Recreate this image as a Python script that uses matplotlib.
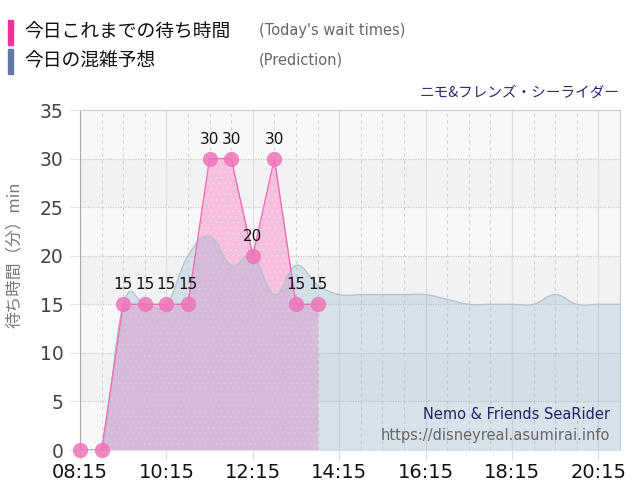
import matplotlib
matplotlib.use("Agg")
import matplotlib.pyplot as plt
from matplotlib.path import Path
from matplotlib.patches import PathPatch, Rectangle

JP = ['Noto Sans CJK JP', 'DejaVu Sans']

# times every 30 min, in minutes after midnight
today_times = [495, 525, 555, 585, 615, 645, 675, 705, 735, 765, 795, 825]
today_waits = [0, 0, 15, 15, 15, 15, 30, 30, 20, 30, 15, 15]

pred_times = [495, 525, 555, 585, 615, 645, 675, 705, 735, 765, 795, 825, 855,
              885, 915, 945, 975, 1005, 1035, 1065, 1095, 1125, 1155, 1185, 1215, 1245]
pred_waits = [0, 0, 15, 15, 15, 20, 22, 19, 20, 16, 19, 17, 16,
              16, 16, 16, 16, 15.5, 15, 15, 15, 15, 16, 15, 15, 15]

tick_times = [495, 615, 735, 855, 975, 1095, 1215]
tick_labels = ['08:15', '10:15', '12:15', '14:15', '16:15', '18:15', '20:15']


def smooth_path(xs, ys, tension=0.4, close=False):
    # cubic bezier through the points (like a chart.js tension curve)
    pts = list(zip(xs, ys))
    verts = [pts[0]]
    codes = [Path.MOVETO]
    n = len(pts)
    for i in range(n - 1):
        p0 = pts[i - 1] if i > 0 else pts[i]
        p1 = pts[i]
        p2 = pts[i + 1]
        p3 = pts[i + 2] if i + 2 < n else pts[i + 1]
        c1 = (p1[0] + (p2[0] - p0[0]) * tension / 2, p1[1] + (p2[1] - p0[1]) * tension / 2)
        c2 = (p2[0] - (p3[0] - p1[0]) * tension / 2, p2[1] - (p3[1] - p1[1]) * tension / 2)
        verts += [c1, c2, p2]
        codes += [Path.CURVE4] * 3
    if close:
        verts += [(xs[-1], 0), (xs[0], 0), (xs[0], 0)]
        codes += [Path.LINETO, Path.LINETO, Path.CLOSEPOLY]
    return Path(verts, codes)


fig = plt.figure(figsize=(6.4, 5), dpi=100)
ax = fig.add_axes([80 / 640, 50 / 500, 540 / 640, 340 / 500])

ax.set_xlim(495, 1245)
ax.set_ylim(0, 35)

# striped background
for k in range(7):
    ax.axhspan(k * 5, k * 5 + 5, color='#f8f8f8' if k % 2 == 0 else '#f2f2f2', zorder=0, lw=0)

# grid
for t in range(525, 1245, 30):
    if t not in tick_times:
        ax.axvline(t, color='#d4d4d4', lw=0.8, ls=(0, (3, 3)), zorder=1)
for t in tick_times:
    ax.axvline(t, color='#dedede', lw=0.9, zorder=1)
for v in range(5, 35, 5):
    ax.axhline(v, color='#cccccc', lw=0.9, ls=(0, (1, 1)), zorder=1)

# today's wait times (fill under the prediction layer)
ax.fill_between(today_times, today_waits, 0, color='#f5bfdd', lw=0, zorder=2)
plt.rcParams['hatch.linewidth'] = 0.4
ax.fill_between(today_times, today_waits, 0, facecolor='none', edgecolor=(1, 1, 1, 0.3),
                hatch='...', lw=0, zorder=2)

# prediction
ax.add_patch(PathPatch(smooth_path(pred_times, pred_waits, close=True),
                       facecolor='#90b1cf', alpha=0.3, edgecolor='none', zorder=3))
ax.add_patch(PathPatch(smooth_path(pred_times, pred_waits),
                       facecolor='none', edgecolor='#b3c1cf', lw=0.9, zorder=4))

ax.plot(today_times, today_waits, color='#f06eb6', lw=1.0, zorder=5)
ax.plot(today_times, today_waits, 'o', ms=11, color='#ee74b8', alpha=0.85,
        mec='none', zorder=6, clip_on=False)
for t, w in zip(today_times, today_waits):
    if w > 0:
        ax.annotate(str(w), (t, w), xytext=(0, 8.5), textcoords='offset points',
                    ha='center', va='bottom', fontsize=11, color='#111111',
                    family='DejaVu Sans', zorder=7)

# axes styling
ax.set_xticks(tick_times)
ax.set_xticklabels(tick_labels, family='DejaVu Sans', fontsize=14, color='#111111')
ax.set_yticks(range(0, 36, 5))
ax.set_yticklabels([str(v) for v in range(0, 36, 5)], family='DejaVu Sans',
                   fontsize=13.5, color='#444444')
ax.tick_params(axis='x', length=7, color='#dddddd', pad=2)
ax.tick_params(axis='y', length=8, color='#e4e4e4', pad=4)
ax.spines['left'].set_color('#aaaaaa')
ax.spines['bottom'].set_color('#e0e0e0')
for s in ['top', 'right']:
    ax.spines[s].set_color('#cccccc')
    ax.spines[s].set_linestyle((0, (1, 1)))
ax.set_ylabel('待ち時間（分）min', family=JP, fontsize=12, color='#777777')
ax.yaxis.set_label_coords(-0.105, 0.574)

# watermark
ax.text(0.982, 0.105, 'Nemo & Friends SeaRider', transform=ax.transAxes, ha='right',
        va='center', fontsize=10.5, color='#222266', family='DejaVu Sans', zorder=8)
ax.text(0.982, 0.043, 'https://disneyreal.asumirai.info', transform=ax.transAxes,
        ha='right', va='center', fontsize=10.5, color='#666666', family='DejaVu Sans', zorder=8)

# header legend
fig.patches.append(Rectangle((8 / 640, 1 - 45 / 500), 5 / 640, 25 / 500,
                             transform=fig.transFigure, color='#f0319a'))
fig.patches.append(Rectangle((8 / 640, 1 - 74 / 500), 5 / 640, 25 / 500,
                             transform=fig.transFigure, color='#6277a6'))
fig.text(24 / 640, 1 - 32 / 500, '今日これまでの待ち時間', family=JP, fontsize=13.5,
         va='center', color='#111111')
fig.text(24 / 640, 1 - 61 / 500, '今日の混雑予想', family=JP, fontsize=13.5,
         va='center', color='#111111')
fig.text(259 / 640, 1 - 31 / 500, "(Today's wait times)", family='DejaVu Sans',
         fontsize=10.5, va='center', color='#666666')
fig.text(259 / 640, 1 - 60 / 500, '(Prediction)', family='DejaVu Sans',
         fontsize=10.5, va='center', color='#666666')
fig.text(620 / 640, 1 - 93 / 500, 'ニモ&フレンズ・シーライダー', family=JP, fontsize=10.5,
         ha='right', va='center', color='#2a2a77')

fig.savefig('out.png', dpi=100)
